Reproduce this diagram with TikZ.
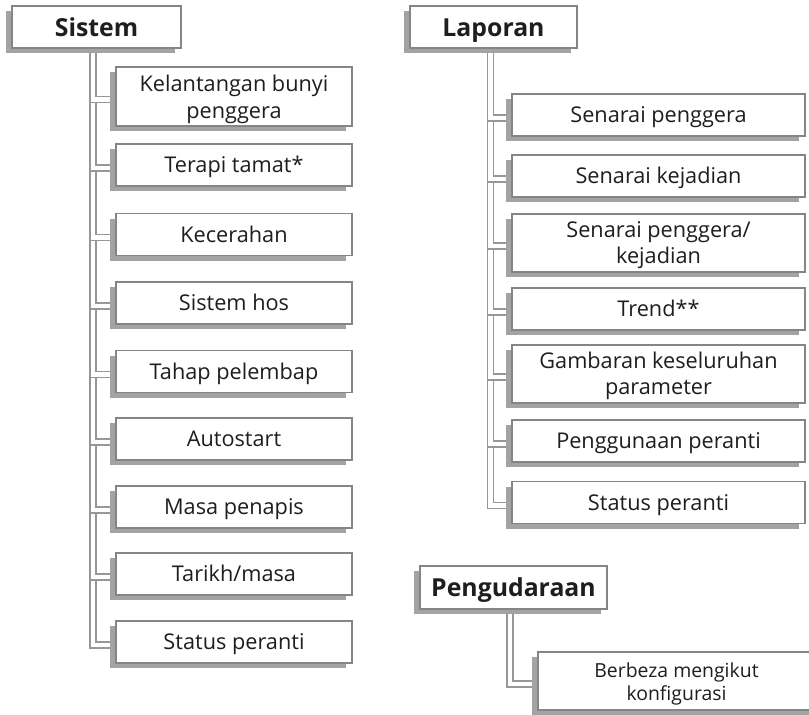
\documentclass[tikz,border=0pt]{standalone}
\usepackage{fontspec}
\setmainfont{Open Sans}
\usetikzlibrary{shadows}
\definecolor{bordergray}{HTML}{858585}
\definecolor{shadowgray}{HTML}{A3A3A3}
\definecolor{linegray}{HTML}{979797}
\definecolor{txt}{HTML}{1E1E1E}
\newcommand\twolines[2]{\begin{tabular}[b]{@{}c@{}}#1\\#2\end{tabular}}
\tikzset{
  boxbase/.style={draw=bordergray, line width=1.8pt, fill=white, inner sep=0pt,
    text=txt,
    drop shadow={shadow xshift=-6.5pt, shadow yshift=-5pt, fill=shadowgray, opacity=1}},
  titlebox/.style={boxbase, font=\fontsize{24.8}{29}\selectfont\bfseries, text height=23pt, text depth=5pt},
  childfont/.style={font=\fontsize{21.7}{26.5}\selectfont},
  oneline/.style={text height=20.5pt, text depth=5pt},
  twoline/.style={text height=46pt, text depth=5pt},
  leftbox/.style={boxbase, childfont, minimum width=236pt, minimum height=42pt},
  rightbox/.style={boxbase, childfont, minimum width=293pt, minimum height=42pt},
  conn/.style={draw=linegray, line width=1.5pt, double=white, double distance=4.5pt},
}
\begin{document}
\begin{tikzpicture}[x=1pt,y=-1pt]
\useasboundingbox (0,0) rectangle (809,715);

% trunk tops
\coordinate (st) at (93,45);
\coordinate (lt) at (490.5,45);
\coordinate (pt) at (510,605);

% branch targets (left)
\coordinate (a1) at (116,99.5);
\coordinate (a2) at (116,168);
\coordinate (a3) at (116,237.5);
\coordinate (a4) at (116,306);
\coordinate (a5) at (116,374.5);
\coordinate (a6) at (116,442);
\coordinate (a7) at (116,510);
\coordinate (a8) at (116,577);
\coordinate (a9) at (116,645);
% branch targets (right)
\coordinate (b1) at (512,118);
\coordinate (b2) at (512,179);
\coordinate (b3) at (512,246);
\coordinate (b4) at (512,312);
\coordinate (b5) at (512,377);
\coordinate (b6) at (512,444);
\coordinate (b7) at (512,505.5);
\coordinate (c1) at (538,684);

\foreach \t in {a9,a8,a7,a6,a5,a4,a3,a2,a1} \draw[conn] (st) |- (\t);
\foreach \t in {b7,b6,b5,b4,b3,b2,b1} \draw[conn] (lt) |- (\t);
\draw[conn] (pt) |- (c1);

% title boxes
\node[titlebox, minimum width=169pt, minimum height=42pt] (sistem) at (96.5,27) {Sistem};
\node[titlebox, minimum width=167pt, minimum height=42pt] (laporan) at (493.5,27) {Laporan};
\node[titlebox, minimum width=187pt, minimum height=43pt] (peng) at (513.5,587.5) {Pengudaraan};

% left children
\node[leftbox, minimum height=59pt, text height=48.5pt, text depth=5pt] (k1) at (234,96.5) {\twolines{Kelantangan bunyi}{penggera}};
\node[leftbox, oneline] (k2) at (234,165) {Terapi tamat*};
\node[leftbox, oneline] (k3) at (234,234.5) {Kecerahan};
\node[leftbox, oneline] (k4) at (234,303) {Sistem hos};
\node[leftbox, oneline] (k5) at (234,371.5) {Tahap pelembap};
\node[leftbox, oneline] (k6) at (234,439) {Autostart};
\node[leftbox, oneline] (k7) at (234,507) {Masa penapis};
\node[leftbox, oneline] (k8) at (234,574) {Tarikh/masa};
\node[leftbox, oneline] (k9) at (234,642) {Status peranti};

% right children
\node[rightbox, oneline] (r1) at (658.5,115) {Senarai penggera};
\node[rightbox, oneline] (r2) at (658.5,176) {Senarai kejadian};
\node[rightbox, minimum height=58pt, twoline] (r3) at (658.5,243) {\twolines{Senarai penggera/}{kejadian}};
\node[rightbox, oneline] (r4) at (658.5,309) {Trend**};
\node[rightbox, minimum height=58pt, twoline] (r5) at (658.5,374) {\twolines{Gambaran keseluruhan}{parameter}};
\node[rightbox, oneline] (r6) at (658.5,441) {Penggunaan peranti};
\node[rightbox, oneline] (r7) at (658.5,502.5) {Status peranti};

\node[boxbase, minimum width=277pt, minimum height=58pt, font=\fontsize{19.4}{22.5}\selectfont, text height=43pt, text depth=5pt] (p1) at (676.5,681) {\twolines{Berbeza mengikut}{konfigurasi}};
\end{tikzpicture}
\end{document}
